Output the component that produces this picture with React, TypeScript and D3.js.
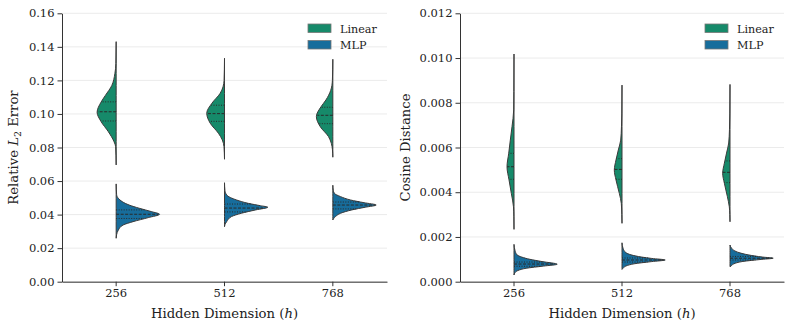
import React, { useEffect, useRef } from "react";
import * as d3 from "d3";

const dims = ["256", "512", "768"];
const models = ["Linear", "MLP"];
const colors = ["#168a6a", "#176d9c"];

// density profiles: [value, relative density]
const errLinear = [
  [[0.1431, 0], [0.13, 0.007], [0.124, 0.03], [0.117, 0.1], [0.111, 0.25], [0.107, 0.35], [0.101, 0.44], [0.0955, 0.35], [0.0894, 0.18], [0.0835, 0.05], [0.0805, 0.012], [0.0696, 0]],
  [[0.1332, 0], [0.12, 0.01], [0.1123, 0.1], [0.1064, 0.29], [0.1004, 0.41], [0.0945, 0.33], [0.0885, 0.14], [0.0845, 0.05], [0.0805, 0.012], [0.073, 0]],
  [[0.1326, 0], [0.12, 0.01], [0.114, 0.05], [0.1083, 0.16], [0.1044, 0.27], [0.0984, 0.38], [0.0924, 0.29], [0.0865, 0.1], [0.0825, 0.035], [0.079, 0.01], [0.0742, 0]],
];
const errMLP = [
  [[0.0583, 0], [0.052, 0.01], [0.0497, 0.05], [0.0457, 0.3], [0.0438, 0.53], [0.0418, 0.81], [0.0402, 1.0], [0.0382, 0.74], [0.0358, 0.39], [0.0338, 0.16], [0.0308, 0.05], [0.028, 0.01], [0.0259, 0]],
  [[0.059, 0], [0.0545, 0.01], [0.0517, 0.05], [0.0487, 0.28], [0.0467, 0.55], [0.0453, 0.83], [0.0444, 1.0], [0.0428, 0.72], [0.0408, 0.39], [0.0388, 0.16], [0.0358, 0.05], [0.034, 0.01], [0.0328, 0]],
  [[0.0575, 0], [0.0545, 0.01], [0.0527, 0.035], [0.0507, 0.18], [0.0487, 0.41], [0.0471, 0.72], [0.0457, 1.0], [0.0444, 0.75], [0.0428, 0.44], [0.0408, 0.18], [0.0388, 0.06], [0.0375, 0.015], [0.0368, 0]],
];
const cosLinear = [
  [[0.01018, 0], [0.0085, 0.003], [0.00768, 0.007], [0.00693, 0.046], [0.00633, 0.085], [0.00574, 0.122], [0.00514, 0.162], [0.00455, 0.115], [0.00395, 0.062], [0.00335, 0.012], [0.0029, 0.003], [0.00234, 0]],
  [[0.00879, 0], [0.0075, 0.004], [0.00693, 0.012], [0.00633, 0.03], [0.00589, 0.085], [0.00544, 0.139], [0.00499, 0.178], [0.00455, 0.139], [0.00395, 0.062], [0.0035, 0.016], [0.003, 0.004], [0.00261, 0]],
  [[0.00882, 0], [0.0075, 0.004], [0.0068, 0.012], [0.0062, 0.03], [0.00575, 0.08], [0.0053, 0.13], [0.00485, 0.17], [0.0044, 0.13], [0.0038, 0.06], [0.00335, 0.016], [0.003, 0.004], [0.00268, 0]],
];
const cosMLP = [
  [[0.00167, 0], [0.0014, 0.023], [0.0012, 0.07], [0.0011, 0.18], [0.001, 0.37], [0.0009, 0.65], [0.00078, 1.0], [0.0007, 0.69], [0.0006, 0.28], [0.0005, 0.09], [0.0004, 0.023], [0.0003, 0]],
  [[0.00174, 0], [0.0015, 0.023], [0.0013, 0.09], [0.0012, 0.21], [0.0011, 0.46], [0.00104, 0.69], [0.00097, 1.0], [0.0009, 0.69], [0.0008, 0.28], [0.0007, 0.09], [0.0006, 0.023], [0.00055, 0]],
  [[0.00164, 0], [0.0015, 0.035], [0.0014, 0.09], [0.0013, 0.21], [0.0012, 0.42], [0.0011, 0.76], [0.00105, 1.0], [0.001, 0.74], [0.0009, 0.28], [0.0008, 0.09], [0.0007, 0.023], [0.00067, 0]],
];

// [q1, median, q3]
const errLinearQ = [[0.0958, 0.1013, 0.1072], [0.0956, 0.1002, 0.1052], [0.0942, 0.0992, 0.104]];
const errMLPQ = [[0.0377, 0.0402, 0.0428], [0.0416, 0.0439, 0.0463], [0.0434, 0.0457, 0.0475]];
const cosLinearQ = [[0.00458, 0.00514, 0.00574], [0.00458, 0.00502, 0.0055], [0.00443, 0.00489, 0.0054]];
const cosMLPQ = [[0.00069, 0.00079, 0.00088], [0.00088, 0.00097, 0.00106], [0.00097, 0.00105, 0.00113]];

const errTicks = [0, 0.02, 0.04, 0.06, 0.08, 0.1, 0.12, 0.14, 0.16];
const cosTicks = [0, 0.002, 0.004, 0.006, 0.008, 0.01, 0.012];

const FONT = "DejaVu Serif, serif";

const panels = [
  { left: 62, right: 387, ticks: errTicks, fmt: ".2f", series: [errLinear, errMLP], quart: [errLinearQ, errMLPQ], label: "err", labelX: 18 },
  { left: 460, right: 784, ticks: cosTicks, fmt: ".3f", series: [cosLinear, cosMLP], quart: [cosLinearQ, cosMLPQ], label: "cos", labelX: 410 },
];

const top = 13.3;
const bottom = 281.7;

export default function App() {
  const svgRef = useRef(null);

  useEffect(() => {
    document.body.style.margin = "0";
    const svg = d3.select(svgRef.current);
    svg.selectAll("*").remove();

    panels.forEach((p) => {
      const g = svg.append("g");
      const y = d3.scaleLinear().domain([0, p.ticks[p.ticks.length - 1]]).range([bottom, top]);
      const x = d3.scaleBand().domain(dims).range([p.left, p.right]);
      const w = d3.scaleLinear().domain([0, 1]).range([0, x.bandwidth() * 0.4]);

      // grid
      g.selectAll(".grid")
        .data(p.ticks)
        .enter()
        .append("line")
        .attr("x1", p.left)
        .attr("x2", p.right)
        .attr("y1", (d) => y(d))
        .attr("y2", (d) => y(d))
        .attr("stroke", "#ebebeb")
        .attr("stroke-width", 1);

      // violins
      p.series.forEach((profiles, si) => {
        const side = si === 0 ? -1 : 1;
        profiles.forEach((prof, ci) => {
          const cx = x(dims[ci]) + x.bandwidth() / 2;
          const area = d3
            .area()
            .curve(d3.curveMonotoneY)
            .y((d) => y(d[0]))
            .x0(cx)
            .x1((d) => cx + side * w(d[1]));
          g.append("path")
            .attr("d", area(prof))
            .attr("fill", colors[si])
            .attr("stroke", "#3a3a3a")
            .attr("stroke-width", 1)
            .attr("stroke-linejoin", "round");

          const sorted = prof.slice().sort((a, b) => a[0] - b[0]);
          const dens = d3.scaleLinear().domain(sorted.map((d) => d[0])).range(sorted.map((d) => d[1]));
          p.quart[si][ci].forEach((q, qi) => {
            g.append("line")
              .attr("x1", cx)
              .attr("x2", cx + side * w(dens(q)) * 0.97)
              .attr("y1", y(q))
              .attr("y2", y(q))
              .attr("stroke", "#2a2a2a")
              .attr("stroke-width", 1)
              .attr("stroke-dasharray", qi === 1 ? "3,1.5" : "1,1.5");
          });
        });
      });

      // y axis
      const ya = g
        .append("g")
        .attr("transform", `translate(${p.left},0)`)
        .call(d3.axisLeft(y).tickValues(p.ticks).tickFormat(d3.format(p.fmt)).tickSize(4.5).tickSizeOuter(0).tickPadding(3));
      ya.selectAll("text").attr("font-family", FONT).attr("font-size", 11.5).attr("fill", "#222");
      ya.selectAll("line,path").attr("stroke", "#333");

      // x axis
      const xa = g
        .append("g")
        .attr("transform", `translate(0,${bottom})`)
        .call(d3.axisBottom(x).tickSize(4.5).tickSizeOuter(0).tickPadding(3));
      xa.selectAll("text").attr("font-family", FONT).attr("font-size", 11.5).attr("fill", "#222");
      xa.selectAll("line,path").attr("stroke", "#333");

      // x label
      const xl = g
        .append("text")
        .attr("x", (p.left + p.right) / 2)
        .attr("y", 318)
        .attr("text-anchor", "middle")
        .attr("font-family", FONT)
        .attr("font-size", 13.2)
        .attr("fill", "#222");
      xl.append("tspan").text("Hidden Dimension (");
      xl.append("tspan").attr("font-style", "italic").text("h");
      xl.append("tspan").text(")");

      // y label
      const yl = g
        .append("text")
        .attr("transform", `translate(${p.labelX},${(top + bottom) / 2}) rotate(-90)`)
        .attr("text-anchor", "middle")
        .attr("font-family", FONT)
        .attr("font-size", 13.2)
        .attr("fill", "#222");
      if (p.label === "err") {
        yl.append("tspan").text("Relative ");
        yl.append("tspan").attr("font-style", "italic").text("L");
        yl.append("tspan").attr("font-size", 9.5).attr("dy", 3).text("2");
        yl.append("tspan").attr("dy", -3).text(" Error");
      } else {
        yl.append("tspan").text("Cosine Distance");
      }

      // legend
      models.forEach((m, i) => {
        const ly = 24 + i * 16.5;
        g.append("rect")
          .attr("x", p.right - 79)
          .attr("y", ly)
          .attr("width", 23)
          .attr("height", 8.5)
          .attr("fill", colors[i])
          .attr("stroke", "#777")
          .attr("stroke-width", 0.8);
        g.append("text")
          .attr("x", p.right - 47)
          .attr("y", ly + 8.5)
          .attr("font-family", FONT)
          .attr("font-size", 11.2)
          .attr("fill", "#222")
          .text(m);
      });
    });
  }, []);

  return <svg ref={svgRef} width={793} height={330} style={{ display: "block", background: "#fff" }} />;
}
